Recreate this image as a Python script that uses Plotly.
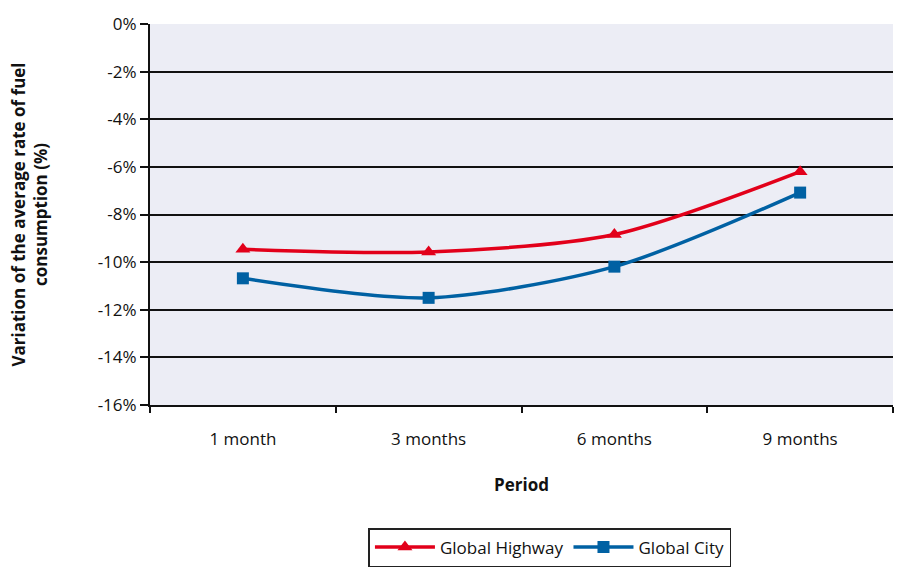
import plotly.graph_objects as go

periods = ["1 month", "3 months", "6 months", "9 months"]
highway = [-9.46, -9.57, -8.84, -6.2]
city = [-10.68, -11.5, -10.19, -7.08]
y_ticks = [0, -2, -4, -6, -8, -10, -12, -14, -16]
y_tick_text = ["0%", "-2%", "-4%", "-6%", "-8%", "-10%", "-12%", "-14%", "-16%"]

FONT = "Open Sans"
FS = 17

fig = go.Figure()
fig.add_trace(go.Scatter(
    x=periods, y=highway, name="Global Highway", mode="lines+markers",
    line=dict(color="#E2001A", width=3.5, shape="spline", smoothing=0.8),
    marker=dict(symbol="triangle-up", size=13, color="#E2001A"),
))
fig.add_trace(go.Scatter(
    x=periods, y=city, name="Global City", mode="lines+markers",
    line=dict(color="#0061A3", width=3.5, shape="spline", smoothing=0.8),
    marker=dict(symbol="square", size=12, color="#0061A3"),
))

fig.update_layout(
    width=909, height=567,
    margin=dict(l=150, r=16, t=17, b=162),
    paper_bgcolor="white",
    plot_bgcolor="#ECEDF5",
    font=dict(family=FONT, size=FS, color="#111"),
    showlegend=True,
    legend=dict(
        orientation="h", xref="container", x=0.605, xanchor="center",
        yref="container", y=0.0, yanchor="bottom",
        bordercolor="#222", borderwidth=1.5, bgcolor="white",
        font=dict(family=FONT, size=FS, color="#111"),
        itemwidth=60,
    ),
    xaxis=dict(
        type="category", range=[-0.5, 3.5], tickson="boundaries",
        ticks="outside", ticklen=6, tickwidth=2, tickcolor="#111",
        showline=True, linecolor="#111", linewidth=2,
        showgrid=False,
        title=dict(text="<b>Period</b>", font=dict(family=FONT, size=FS), standoff=30),
        ticklabelstandoff=18,
    ),
    yaxis=dict(
        range=[-16, 0], tickvals=y_ticks, ticktext=y_tick_text,
        ticks="outside", ticklen=8, tickwidth=2, tickcolor="#111",
        showline=True, linecolor="#111", linewidth=2,
        showgrid=True, gridcolor="#111", gridwidth=2,
        zeroline=False,
        title=dict(text="<b>Variation of the average rate of fuel<br>consumption (%)</b>",
                   font=dict(family=FONT, size=FS), standoff=46),
    ),
)

fig.write_html("out.html")
